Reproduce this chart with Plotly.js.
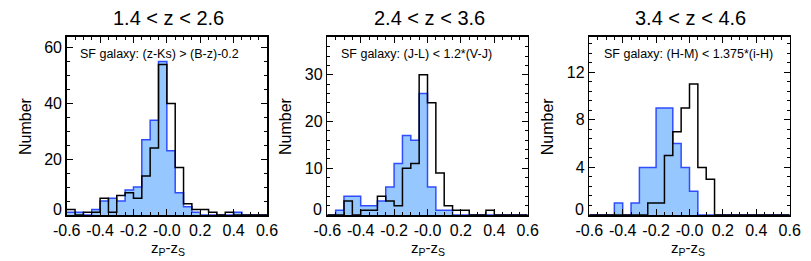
<!DOCTYPE html>
<html>
<head>
<meta charset="utf-8">
<script src="https://cdn.plot.ly/plotly-3.0.1.min.js"></script>
<style>html,body{margin:0;padding:0;background:#fff;}#chart{width:811px;height:261px;}</style>
</head>
<body>
<div id="chart"></div>
<script>
// ---- data ----
const binLeft = [-0.60,-0.55,-0.50,-0.45,-0.40,-0.35,-0.30,-0.25,-0.20,-0.15,-0.10,-0.05,
                 0.00,0.05,0.10,0.15,0.20,0.25,0.30,0.35,0.40,0.45,0.50,0.55];
const binWidth = 0.05;

const panelTitles = ["1.4 < z < 2.6", "2.4 < z < 3.6", "3.4 < z < 4.6"];
const panelLabels = ["SF galaxy: (z-Ks) > (B-z)-0.2", "SF galaxy: (J-L) < 1.2*(V-J)", "SF galaxy: (H-M) < 1.375*(i-H)"];

// SF-selected (blue, filled) histograms
const sf1 = [1,1,0,2,5,6,5,9,10,27,34,55,23,8,3,1,0,0,0,0,1,0,0,0];
const sf2 = [0,1,4,4,2,2,3,6,11,17,16,26,6,1,1,0,0,0,0,0,0,0,0,0];
const sf3 = [0,0,0,1,0,1,4,4,9,9,6,4,2,0,0,0,0,0,0,0,0,0,0,0];
// all galaxies (black outline) histograms
const all1 = [2,0,1,1,6,1,7,8,6,14,24,54,40,17,4,2,2,1,0,1,0,0,0,0];
const all2 = [0,0,3,0,1,1,4,3,2,10,11,30,24,9,2,1,1,0,0,1,0,0,0,0];
const all3 = [0,0,0,0,0,0,0,1,1,5,7,9,11,4,3,0,0,0,0,0,0,0,0,0];

const xTickVals = [-0.6,-0.4,-0.2,0.0,0.2,0.4,0.6];
const xTickText = ["-0.6","-0.4","-0.2","-0.0","0.2","0.4","0.6"];
const yTicks1 = [0,20,40,60];
const yTicks2 = [0,10,20,30];
const yTicks3 = [0,4,8,12];

// ---- build ----
const FONT = "Liberation Sans, Arial, Helvetica, sans-serif";
function stepX(){ return binLeft.concat([binLeft[binLeft.length-1] + binWidth]); }
function stepY(v){ return v.concat([v[v.length-1]]); }

const sfSets = [sf1, sf2, sf3];
const allSets = [all1, all2, all3];
const traces = [];
for (let i = 0; i < 3; i++) {
  const xa = i === 0 ? 'x' : 'x' + (i+1);
  const ya = i === 0 ? 'y' : 'y' + (i+1);
  traces.push({x: stepX(), y: stepY(sfSets[i]), xaxis: xa, yaxis: ya, type: 'scatter', mode: 'lines',
    line: {shape: 'hv', color: '#2f4dff', width: 1.5}, fill: 'tozeroy', fillcolor: '#96c8ff',
    hoverinfo: 'skip'});
  traces.push({x: stepX(), y: stepY(allSets[i]), xaxis: xa, yaxis: ya, type: 'scatter', mode: 'lines',
    line: {shape: 'hv', color: '#000000', width: 1.5}, hoverinfo: 'skip'});
}

const W = 811, H = 261;
const xDom = [[66.7, 267.0], [327.3, 527.7], [589.3, 789.7]];
const yDom = [1 - 215/H, 1 - 36.5/H];

function xAxis(i) {
  return {domain: [xDom[i][0]/W, xDom[i][1]/W], anchor: i === 0 ? 'y' : 'y' + (i+1),
    range: [-0.6, 0.6], tickvals: xTickVals, ticktext: xTickText,
    showline: true, linecolor: '#000', linewidth: 1.5, mirror: 'allticks',
    ticks: 'inside', ticklen: 6, tickwidth: 1, tickcolor: '#000',
    showgrid: false, zeroline: false, tickfont: {family: FONT, size: 16, color: '#000'},
    minor: {ticks: 'inside', ticklen: 3, dtick: 0.05, tick0: 0, tickwidth: 1, tickcolor: '#000', showgrid: false},
    fixedrange: true};
}
function yAxis(i, range, ticks, minorDt) {
  // the zero label is drawn as an annotation, nudged up as in the reference
  const txt = ticks.map(v => v === 0 ? ' ' : String(v));
  return {domain: yDom, anchor: i === 0 ? 'x' : 'x' + (i+1),
    range: range, tickvals: ticks, ticktext: txt,
    showline: true, linecolor: '#000', linewidth: 1.5, mirror: 'allticks',
    ticks: 'inside', ticklen: 6, tickwidth: 1, tickcolor: '#000',
    showgrid: false, zeroline: false, tickfont: {family: FONT, size: 16, color: '#000'},
    minor: {ticks: 'inside', ticklen: 3, dtick: minorDt, tick0: 0, tickwidth: 1, tickcolor: '#000', showgrid: false},
    fixedrange: true};
}

const annotations = [];
const titleX = [168, 429, 690];
const labelX = [78, 339.3, 601.7];
const numberX = [25, 285, 547.3];
const xtitleX = [168.3, 428.3, 688.3];
for (let i = 0; i < 3; i++) {
  annotations.push({xref: 'paper', yref: 'paper', x: titleX[i]/W, y: 1 - 18/H, xanchor: 'center', yanchor: 'middle',
    text: panelTitles[i], showarrow: false, font: {family: FONT, size: 20, color: '#000'}});
  annotations.push({xref: 'paper', yref: 'paper', x: labelX[i]/W, y: 1 - 54.3/H, xanchor: 'left', yanchor: 'middle',
    text: panelLabels[i], showarrow: false, font: {family: FONT, size: 12.5, color: '#000'}});
  annotations.push({xref: 'paper', yref: 'paper', x: numberX[i]/W, y: 1 - 126/H, xanchor: 'center', yanchor: 'middle',
    text: 'Number', textangle: -90, showarrow: false, font: {family: FONT, size: 16, color: '#000'}});
  annotations.push({xref: 'paper', yref: 'paper', x: xtitleX[i]/W, y: 1 - 249/H, xanchor: 'center', yanchor: 'middle',
    text: 'z<sub>P</sub>-z<sub>S</sub>', showarrow: false, font: {family: FONT, size: 15, color: '#000'}});
  annotations.push({xref: 'paper', yref: 'paper', x: (xDom[i][0] - 3)/W, y: 1 - 209/H, xanchor: 'right', yanchor: 'middle',
    text: '0', showarrow: false, font: {family: FONT, size: 16, color: '#000'}});
}

const layout = {
  width: W, height: H, margin: {l: 0, r: 0, t: 0, b: 0},
  paper_bgcolor: '#fff', plot_bgcolor: '#fff', showlegend: false,
  xaxis: xAxis(0), xaxis2: xAxis(1), xaxis3: xAxis(2),
  yaxis: yAxis(0, [0, 64], yTicks1, 5),
  yaxis2: yAxis(1, [0, 38.2], yTicks2, 2),
  yaxis3: yAxis(2, [0, 15], yTicks3, 0.8),
  annotations: annotations,
  font: {family: FONT, color: '#000'}
};

Plotly.newPlot('chart', traces, layout, {staticPlot: true, displayModeBar: false});
</script>
</body>
</html>
